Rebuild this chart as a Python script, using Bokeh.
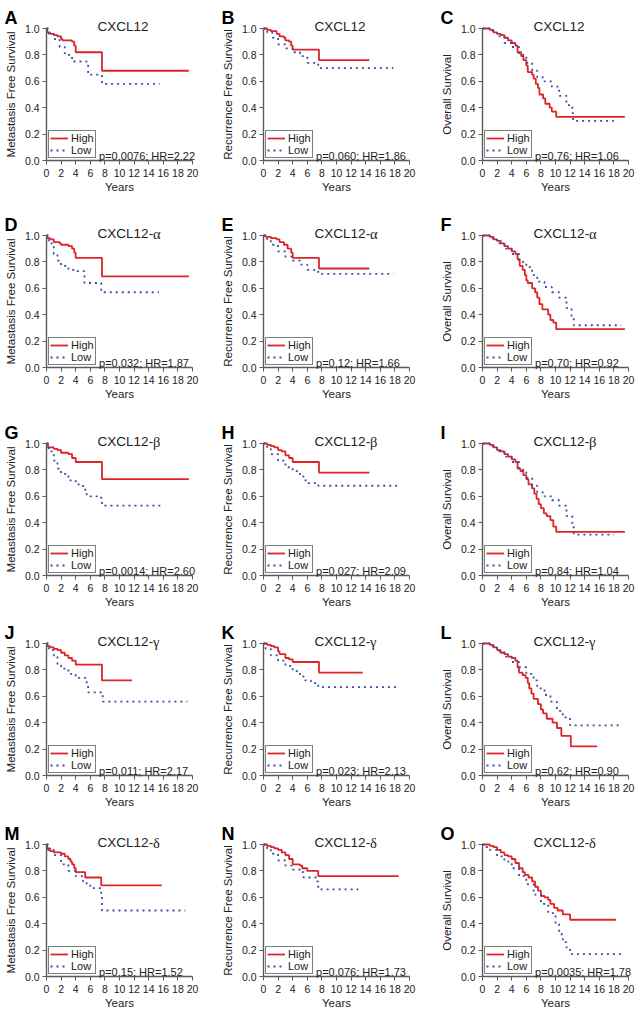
from bokeh.plotting import figure
from bokeh.layouts import gridplot
from bokeh.models import Range1d, FixedTicker, PrintfTickFormatter, Legend, LegendItem, Label
from bokeh.embed import file_html
from bokeh.resources import INLINE

# ---------------- data ----------------
x_ticks = [0, 2, 4, 6, 8, 10, 12, 14, 16, 18, 20]
y_ticks = [0.0, 0.2, 0.4, 0.6, 0.8, 1.0]

letters = ["A", "B", "C", "D", "E", "F", "G", "H", "I", "J", "K", "L", "M", "N", "O"]
genes = ["CXCL12", "CXCL12-α", "CXCL12-β", "CXCL12-γ", "CXCL12-δ"]
ylabels = ["Metastasis Free Survival", "Recurrence Free Survival", "Overall Survival"]
ptexts = ["p=0.0076; HR=2.22", "p=0.060; HR=1.86", "p=0.76; HR=1.06",
          "p=0.032; HR=1.87", "p=0.12; HR=1.66", "p=0.70; HR=0.92",
          "p=0.0014; HR=2.60", "p=0.027; HR=2.09", "p=0.84; HR=1.04",
          "p=0.011; HR=2.17", "p=0.023; HR=2.13", "p=0.62; HR=0.90",
          "p=0.15; HR=1.52", "p=0.076; HR=1.73", "p=0.0035; HR=1.78"]

A_high_t = [0, 0.1, 0.5, 1.0, 1.5, 2.0, 2.2, 3.5, 3.8, 4.0, 7.6, 19.5]
A_high_s = [1.0, 0.97, 0.96, 0.95, 0.94, 0.92, 0.91, 0.90, 0.87, 0.82, 0.68, 0.68]
A_low_t = [0, 0.3, 1.0, 1.8, 2.5, 3.5, 5.5, 5.7, 7.6, 15.5]
A_low_s = [1.0, 0.96, 0.92, 0.86, 0.80, 0.75, 0.72, 0.65, 0.58, 0.58]

B_high_t = [0, 0.5, 1.0, 1.8, 2.2, 2.8, 3.0, 3.5, 3.8, 4.0, 7.6, 14.5]
B_high_s = [1.0, 0.99, 0.98, 0.96, 0.94, 0.93, 0.91, 0.90, 0.87, 0.84, 0.76, 0.76]
B_low_t = [0, 0.5, 1.2, 2.0, 3.0, 4.0, 5.0, 6.0, 7.5, 17.8]
B_low_s = [1.0, 0.97, 0.93, 0.88, 0.85, 0.82, 0.79, 0.74, 0.70, 0.70]

C_high_t = [0, 0.5, 1.0, 1.5, 2.0, 2.5, 3.0, 3.5, 4.0, 4.5, 4.8, 5.3, 5.6, 6.0, 6.2, 6.8, 7.0, 7.3, 7.6, 7.8, 8.3, 8.6, 9.2, 9.5, 10.1, 19.5]
C_high_s = [1.0, 1.0, 0.99, 0.97, 0.96, 0.95, 0.93, 0.91, 0.89, 0.87, 0.82, 0.79, 0.76, 0.72, 0.67, 0.65, 0.62, 0.58, 0.55, 0.50, 0.47, 0.43, 0.40, 0.37, 0.33, 0.33]
C_low_t = [0, 1, 2, 3, 4, 5, 6, 6.8, 7.5, 8.5, 9.5, 10.5, 11.5, 12.3, 12.4, 18]
C_low_s = [1.0, 0.98, 0.94, 0.89, 0.86, 0.80, 0.74, 0.68, 0.63, 0.60, 0.56, 0.49, 0.42, 0.36, 0.30, 0.30]

D_high_t = [0, 0.1, 0.5, 1.0, 1.8, 2.0, 3.0, 3.5, 3.8, 4.0, 7.6, 19.5]
D_high_s = [1.0, 0.98, 0.97, 0.95, 0.94, 0.93, 0.92, 0.90, 0.87, 0.83, 0.69, 0.69]
D_low_t = [0, 0.3, 1.0, 1.5, 2.0, 3.0, 4.0, 5.2, 7.5, 15.4]
D_low_s = [1.0, 0.94, 0.86, 0.81, 0.77, 0.74, 0.73, 0.64, 0.57, 0.57]

E_high_t = [0, 0.3, 1.0, 1.8, 2.2, 2.8, 3.3, 3.8, 4.0, 7.6, 14.5]
E_high_s = [1.0, 0.99, 0.98, 0.97, 0.95, 0.93, 0.90, 0.87, 0.83, 0.75, 0.75]
E_low_t = [0, 0.5, 1.0, 2.0, 3.0, 4.0, 5.0, 6.0, 7.5, 17.8]
E_low_s = [1.0, 0.97, 0.93, 0.88, 0.84, 0.81, 0.78, 0.74, 0.71, 0.71]

F_high_t = [0, 0.5, 1.0, 1.5, 2.0, 2.5, 3.0, 3.5, 4.0, 4.5, 4.8, 5.1, 5.5, 5.8, 6.0, 6.2, 6.8, 7.2, 7.5, 7.8, 8.2, 9.0, 9.3, 9.7, 10.1, 19.5]
F_high_s = [1.0, 1.0, 0.99, 0.97, 0.96, 0.94, 0.92, 0.90, 0.88, 0.86, 0.82, 0.77, 0.74, 0.70, 0.66, 0.64, 0.60, 0.57, 0.53, 0.48, 0.44, 0.40, 0.36, 0.34, 0.29, 0.29]
F_low_t = [0, 1, 2, 3, 4, 5, 6, 6.8, 7.5, 8.5, 9.5, 10.5, 11.5, 12.2, 12.5, 19]
F_low_s = [1.0, 0.98, 0.94, 0.90, 0.86, 0.80, 0.76, 0.70, 0.65, 0.61, 0.57, 0.53, 0.45, 0.38, 0.32, 0.32]

G_high_t = [0, 0.2, 1.0, 1.5, 2.0, 3.0, 3.5, 4.0, 7.6, 19.5]
G_high_s = [1.0, 0.97, 0.96, 0.95, 0.93, 0.92, 0.89, 0.86, 0.73, 0.73]
G_low_t = [0, 0.3, 1.0, 1.5, 2.0, 3.0, 4.0, 5.0, 5.5, 7.5, 7.6, 15.6]
G_low_s = [1.0, 0.94, 0.87, 0.81, 0.77, 0.72, 0.69, 0.65, 0.60, 0.58, 0.53, 0.53]

H_high_t = [0, 0.5, 1.0, 1.5, 2.0, 2.5, 3.0, 3.5, 4.0, 7.6, 14.5]
H_high_s = [1.0, 0.99, 0.98, 0.97, 0.95, 0.94, 0.91, 0.89, 0.86, 0.78, 0.78]
H_low_t = [0, 0.5, 1.0, 2.0, 3.0, 4.0, 5.0, 5.5, 6.0, 7.5, 18.3]
H_low_s = [1.0, 0.96, 0.92, 0.87, 0.82, 0.79, 0.75, 0.72, 0.70, 0.68, 0.68]

I_high_t = [0, 0.5, 1.0, 1.5, 2.0, 2.5, 3.0, 3.5, 4.0, 4.5, 4.8, 5.2, 5.6, 6.0, 6.3, 6.8, 7.1, 7.4, 7.7, 8.0, 8.4, 8.8, 9.3, 9.7, 10.1, 19.5]
I_high_s = [1.0, 1.0, 0.99, 0.97, 0.95, 0.94, 0.92, 0.90, 0.88, 0.86, 0.81, 0.79, 0.76, 0.73, 0.69, 0.66, 0.62, 0.58, 0.54, 0.51, 0.47, 0.45, 0.42, 0.37, 0.33, 0.33]
I_low_t = [0, 1, 2, 3, 4, 5, 6, 6.8, 7.5, 8.5, 9.5, 10.5, 11.5, 12.3, 12.5, 18]
I_low_s = [1.0, 0.98, 0.94, 0.90, 0.86, 0.80, 0.74, 0.68, 0.63, 0.60, 0.57, 0.53, 0.45, 0.38, 0.31, 0.31]

J_high_t = [0, 0.1, 0.5, 1.0, 1.5, 2.0, 2.5, 3.0, 3.5, 4.0, 7.6, 11.7]
J_high_s = [1.0, 0.98, 0.97, 0.96, 0.95, 0.93, 0.91, 0.89, 0.87, 0.84, 0.72, 0.72]
J_low_t = [0, 0.3, 1.0, 1.5, 2.0, 3.0, 4.0, 5.5, 5.7, 7.5, 7.7, 19.3]
J_low_s = [1.0, 0.95, 0.90, 0.84, 0.81, 0.77, 0.74, 0.69, 0.63, 0.61, 0.56, 0.56]

K_high_t = [0, 0.5, 1.0, 1.5, 2.0, 2.2, 3.0, 3.5, 4.0, 7.6, 13.6]
K_high_s = [1.0, 0.99, 0.98, 0.97, 0.94, 0.92, 0.89, 0.88, 0.86, 0.78, 0.78]
K_low_t = [0, 0.3, 1.0, 2.0, 3.0, 4.0, 5.0, 5.5, 6.5, 7.5, 18.3]
K_low_s = [1.0, 0.96, 0.91, 0.87, 0.83, 0.79, 0.75, 0.72, 0.70, 0.67, 0.67]

L_high_t = [0, 0.5, 1.0, 1.5, 2.0, 2.5, 3.0, 3.5, 4.0, 4.5, 4.8, 5.0, 5.5, 5.9, 6.2, 6.4, 6.7, 7.0, 7.6, 8.0, 8.3, 8.8, 9.6, 10.2, 10.8, 12.1, 15.7]
L_high_s = [1.0, 1.0, 0.99, 0.97, 0.95, 0.93, 0.92, 0.90, 0.89, 0.87, 0.82, 0.78, 0.76, 0.74, 0.70, 0.66, 0.62, 0.58, 0.54, 0.50, 0.47, 0.43, 0.40, 0.36, 0.30, 0.22, 0.22]
L_low_t = [0, 1, 2, 3, 4, 5, 6, 7, 7.5, 8.5, 9.3, 10.2, 11.0, 12.0, 18.8]
L_low_s = [1.0, 0.98, 0.94, 0.90, 0.86, 0.82, 0.77, 0.72, 0.66, 0.61, 0.56, 0.49, 0.44, 0.38, 0.38]

M_high_t = [0, 0.1, 0.5, 1.0, 2.0, 2.5, 3.0, 3.3, 3.5, 3.8, 4.0, 5.3, 7.5, 15.8]
M_high_s = [1.0, 0.97, 0.95, 0.94, 0.93, 0.91, 0.89, 0.87, 0.85, 0.82, 0.79, 0.75, 0.69, 0.69]
M_low_t = [0, 0.2, 1.0, 2.0, 3.0, 4.0, 5.0, 5.5, 6.0, 7.5, 7.6, 19]
M_low_s = [1.0, 0.96, 0.92, 0.85, 0.80, 0.76, 0.72, 0.69, 0.67, 0.62, 0.50, 0.50]

N_high_t = [0, 0.5, 1.0, 1.5, 2.0, 2.5, 3.0, 3.5, 4.0, 5.0, 5.3, 6.0, 7.5, 18.5]
N_high_s = [1.0, 0.99, 0.98, 0.97, 0.96, 0.94, 0.92, 0.89, 0.85, 0.84, 0.82, 0.80, 0.76, 0.76]
N_low_t = [0, 0.5, 1.0, 2.0, 3.0, 4.0, 5.0, 5.5, 7.3, 7.5, 13]
N_low_s = [1.0, 0.97, 0.93, 0.88, 0.84, 0.81, 0.79, 0.75, 0.72, 0.66, 0.66]

O_high_t = [0, 0.5, 1.0, 1.5, 2.0, 2.5, 3.0, 3.5, 4.0, 4.5, 5.0, 5.5, 5.8, 6.3, 6.8, 7.2, 7.6, 8.0, 8.5, 9.0, 9.3, 9.8, 10.3, 11.0, 12.0, 18.3]
O_high_s = [1.0, 1.0, 0.99, 0.98, 0.96, 0.94, 0.92, 0.91, 0.89, 0.86, 0.82, 0.79, 0.77, 0.75, 0.72, 0.68, 0.65, 0.61, 0.60, 0.58, 0.55, 0.52, 0.50, 0.47, 0.43, 0.43]
O_low_t = [0, 0.5, 1, 2, 3, 4, 5, 6, 7, 8, 9, 10, 10.5, 11, 11.5, 12, 19]
O_low_s = [1.0, 0.98, 0.96, 0.91, 0.87, 0.82, 0.76, 0.70, 0.62, 0.55, 0.48, 0.40, 0.32, 0.26, 0.22, 0.17, 0.17]

curves = [
    (A_high_t, A_high_s, A_low_t, A_low_s), (B_high_t, B_high_s, B_low_t, B_low_s), (C_high_t, C_high_s, C_low_t, C_low_s),
    (D_high_t, D_high_s, D_low_t, D_low_s), (E_high_t, E_high_s, E_low_t, E_low_s), (F_high_t, F_high_s, F_low_t, F_low_s),
    (G_high_t, G_high_s, G_low_t, G_low_s), (H_high_t, H_high_s, H_low_t, H_low_s), (I_high_t, I_high_s, I_low_t, I_low_s),
    (J_high_t, J_high_s, J_low_t, J_low_s), (K_high_t, K_high_s, K_low_t, K_low_s), (L_high_t, L_high_s, L_low_t, L_low_s),
    (M_high_t, M_high_s, M_low_t, M_low_s), (N_high_t, N_high_s, N_low_t, N_low_s), (O_high_t, O_high_s, O_low_t, O_low_s),
]

# ---------------- style / geometry ----------------
FONT = "Liberation Sans"
SERIF = "Liberation Serif"
RED = "#dc2429"
BLUE = "#3b4fa3"
AXIS = "#5a5a5a"
TXT = "#222222"

COL_W = [217, 219, 207]
ROW_H = [207, 208, 200, 201, 201]
X0_PX = 46          # pixel of year 0 from panel left
KX = 146 / 20.0     # px per year
Y1_PX = 28          # pixel of survival 1.0 from panel top
KY = 132.0          # px per unit survival
TITLE_PX = 13.5     # title font size (px)
BASE_W_EM = 4.112   # width of "CXCL12-" in em (Arial metrics)


def make_panel(idx):
    r, c = divmod(idx, 3)
    ht, hs, lt, ls = curves[idx]
    w, h = COL_W[c], ROW_H[r]
    x_start = -X0_PX / KX
    x_end = x_start + w / KX
    y_end = 1.0 + Y1_PX / KY
    y_start = y_end - h / KY
    p = figure(width=w, height=h,
               x_range=Range1d(x_start, x_end), y_range=Range1d(y_start, y_end),
               output_backend="svg", toolbar_location=None,
               min_border=0, min_border_left=0, min_border_right=0,
               min_border_top=0, min_border_bottom=0)
    p.outline_line_color = None
    p.grid.visible = False
    p.background_fill_color = "white"
    p.border_fill_color = "white"

    rh = p.step(ht, hs, mode="after", line_color=RED, line_width=1.8)
    rl = p.step(lt, ls, mode="after", line_color=BLUE, line_width=1.8, line_dash="2 4")

    for ax in (p.xaxis[0], p.yaxis[0]):
        ax.fixed_location = 0
        ax.axis_line_color = AXIS
        ax.axis_line_width = 1.4
        ax.major_tick_line_color = AXIS
        ax.major_tick_out = 4
        ax.major_tick_in = 0
        ax.minor_tick_line_color = None
        ax.major_label_text_font = FONT
        ax.major_label_text_font_size = "10.5px"
        ax.major_label_text_color = TXT
        ax.axis_label_text_font = FONT
        ax.axis_label_text_font_style = "normal"
        ax.axis_label_text_color = TXT

    p.xaxis.ticker = FixedTicker(ticks=x_ticks)
    p.xaxis.bounds = (0, 20)
    p.xaxis.axis_label = "Years"
    p.xaxis.axis_label_text_font_size = "11.5px"
    p.xaxis.major_label_standoff = 4
    p.xaxis.axis_label_standoff = 1
    p.yaxis.ticker = FixedTicker(ticks=y_ticks)
    p.yaxis.formatter = PrintfTickFormatter(format="%.1f")
    p.yaxis.bounds = (0, 1)
    p.yaxis.axis_label = ylabels[c]
    p.yaxis.axis_label_text_font_size = "11.5px"
    p.yaxis.major_label_standoff = 3
    p.yaxis.axis_label_standoff = 5

    axis_bottom_px = h - (Y1_PX + KY)
    legend = Legend(items=[LegendItem(label="High", renderers=[rh]),
                           LegendItem(label="Low", renderers=[rl])],
                    location=(X0_PX + 2, int(round(axis_bottom_px)) + 2))
    legend.padding = 1
    legend.spacing = 0
    legend.glyph_width = 18
    legend.glyph_height = 12
    legend.label_height = 12
    legend.label_standoff = 3
    legend.label_text_font = FONT
    legend.label_text_font_size = "11px"
    legend.label_text_color = TXT
    legend.border_line_color = "black"
    legend.border_line_width = 1
    legend.background_fill_alpha = 1
    p.add_layout(legend)

    p.add_layout(Label(x=7.2, y=0.036, text=ptexts[idx], text_font=FONT,
                       text_font_size="11px", text_color=TXT,
                       text_baseline="alphabetic", text_align="left"))

    gene = genes[r]
    if "-" in gene:
        base, greek = gene.split("-")
        base = base + "-"
    else:
        base, greek = gene, ""
    title_x = 7.0
    p.add_layout(Label(x=title_x, y=1.012, text=base, text_font=FONT,
                       text_font_size=f"{TITLE_PX}px", text_color=TXT,
                       text_baseline="alphabetic", text_align="left"))
    if greek:
        p.add_layout(Label(x=title_x + BASE_W_EM * TITLE_PX / KX, y=1.012, text=greek,
                           text_font=SERIF, text_font_size=f"{TITLE_PX + 1}px",
                           text_color=TXT, text_baseline="alphabetic", text_align="left"))
    p.add_layout(Label(x=x_start + 0.55, y=1.08, text=letters[idx], text_font=FONT,
                       text_font_size="18px", text_font_style="bold",
                       text_color="black",
                       text_baseline="alphabetic", text_align="left"))
    return p


panels = [make_panel(i) for i in range(15)]
grid = gridplot([panels[i:i + 3] for i in range(0, 15, 3)], toolbar_location=None)

open("out.html", "w").write(file_html(grid, INLINE))
